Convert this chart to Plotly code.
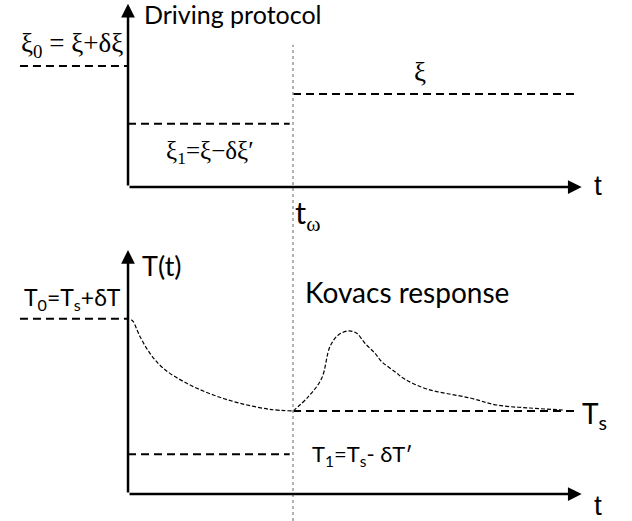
import plotly.graph_objects as go

# ---- data (time in units of t_omega, levels in arbitrary units) ----
t_omega = 1.0
t_left = -0.655          # start of the initial (pre-history) level
t_end = 2.71             # end of the dashed reference levels
t_axis_end = 2.75        # tip of the time axes

xi0 = 1.30               # ξ0 = ξ + δξ
xi = 1.00                # ξ
xi1 = 0.68               # ξ1 = ξ − δξ'
xi_axis_top = 1.97

T0 = 2.11                # T0 = Ts + δT
Ts = 1.00                # Ts
T1 = 0.48                # T1 = Ts − δT'
T_axis_top = 2.94

decay_t = [0.02, 0.032, 0.073, 0.133, 0.214, 0.356, 0.517, 0.679, 0.861, 1.0]
decay_T = [2.10, 2.076, 1.895, 1.695, 1.514, 1.334, 1.193, 1.093, 1.020, 1.0]

kovacs_t = [1.0, 1.093, 1.174, 1.224, 1.275, 1.335, 1.386, 1.436, 1.497, 1.538,
            1.618, 1.679, 1.812, 2.073, 2.236, 2.436, 2.636]
kovacs_T = [1.0, 1.172, 1.394, 1.775, 1.916, 1.964, 1.936, 1.816, 1.695, 1.594,
            1.473, 1.382, 1.265, 1.157, 1.072, 1.036, 1.012]

# ---- figure ----
fig = go.Figure()
lvl = dict(color="black", width=2, dash="8px,5px")
crv = dict(color="black", width=1.2, dash="4px,2px")

# top panel: driving protocol
fig.add_trace(go.Scatter(x=[t_left, 0], y=[xi0, xi0], mode="lines", line=lvl, xaxis="x", yaxis="y"))
fig.add_trace(go.Scatter(x=[0, 0.98 * t_omega], y=[xi1, xi1], mode="lines", line=lvl, xaxis="x", yaxis="y"))
fig.add_trace(go.Scatter(x=[t_omega, t_end], y=[xi, xi], mode="lines", line=lvl, xaxis="x", yaxis="y"))

# bottom panel: temperature response
fig.add_trace(go.Scatter(x=[t_left, 0], y=[T0, T0], mode="lines", line=lvl, xaxis="x2", yaxis="y2"))
fig.add_trace(go.Scatter(x=[0, 0.98 * t_omega], y=[T1, T1], mode="lines", line=lvl, xaxis="x2", yaxis="y2"))
fig.add_trace(go.Scatter(x=[t_omega, t_end], y=[Ts, Ts], mode="lines", line=lvl, xaxis="x2", yaxis="y2"))
fig.add_trace(go.Scatter(x=decay_t, y=decay_T, mode="lines", line=crv, line_shape="spline",
                         xaxis="x2", yaxis="y2"))
fig.add_trace(go.Scatter(x=kovacs_t, y=kovacs_T, mode="lines", line=crv, line_shape="spline",
                         xaxis="x2", yaxis="y2"))

# axes with arrows
def arrow(xr, yr, x0, y0, x1, y1):
    fig.add_annotation(x=x1, y=y1, ax=x0, ay=y0, xref=xr, yref=yr, axref=xr, ayref=yr,
                       text="", showarrow=True, arrowhead=2, arrowsize=1.1,
                       arrowwidth=2.5, arrowcolor="black")

arrow("x", "y", 0, 0, t_axis_end, 0)
arrow("x", "y", 0, 0, 0, xi_axis_top)
arrow("x2", "y2", 0, 0, t_axis_end, 0)
arrow("x2", "y2", 0, 0, 0, T_axis_top)

# vertical dotted line at t_omega
fig.add_shape(type="line", xref="x", yref="paper", x0=t_omega, x1=t_omega,
              y0=0, y1=0.914, line=dict(color="#9a9a9a", width=1.5, dash="dot"))

sans = "Lato, 'Open Sans', sans-serif"
serif = "'Liberation Serif', 'DejaVu Serif', serif"
arial = "'Liberation Sans', Arial, sans-serif"

def label(text, x, y, xr, yr, font, size, xanchor="left"):
    fig.add_annotation(x=x, y=y, xref=xr, yref=yr, text=text, showarrow=False,
                       xanchor=xanchor, yanchor="middle",
                       font=dict(family=font, size=size, color="black"))

label("Driving protocol", 0.085, 1.86, "x", "y", sans, 25)
label("ξ<sub>0</sub> = ξ+δξ", -0.018, 1.527, "x", "y", serif, 27, "right")
label("ξ<sub>1</sub>=ξ−δξ′", 0.497, 0.376, "x", "y", serif, 25, "center")
label("ξ", 1.77, 1.237, "x", "y", serif, 27, "center")
label("t", 2.85, 0.02, "x", "y", arial, 28, "center")
label("t<sub><span style='font-family:Liberation Serif'>ω</span></sub>", 1.0, -0.30, "x", "y", sans, 31)

label("T(t)", 0.073, 2.747, "x2", "y2", sans, 27)
label("T<sub>0</sub>=T<sub>s</sub>+δT", -0.03, 2.35, "x2", "y2", sans, 23, "right")
label("Kovacs response", 1.06, 2.434, "x2", "y2", sans, 28)
label("T<sub>1</sub>=T<sub>s</sub>- δT′", 1.103, 0.47, "x2", "y2", sans, 22)
label("T<sub>s</sub>", 2.74, 0.95, "x2", "y2", sans, 28)
label("t", 2.85, -0.133, "x2", "y2", arial, 28, "center")

xr = [-0.776, 3.055]
fig.update_layout(
    width=632, height=521, margin=dict(l=0, r=0, t=0, b=0),
    paper_bgcolor="white", plot_bgcolor="white", showlegend=False,
    xaxis=dict(domain=[0, 1], range=xr, visible=False, anchor="y"),
    yaxis=dict(domain=[0.56, 1], range=[-0.4542, 2.0108], visible=False, anchor="x"),
    xaxis2=dict(domain=[0, 1], range=xr, visible=False, anchor="y2"),
    yaxis2=dict(domain=[0, 0.54], range=[-0.3253, 3.0643], visible=False, anchor="x2"),
)

fig.write_html("out.html", config={"displayModeBar": False},
               post_script="document.body.style.margin='0';")
